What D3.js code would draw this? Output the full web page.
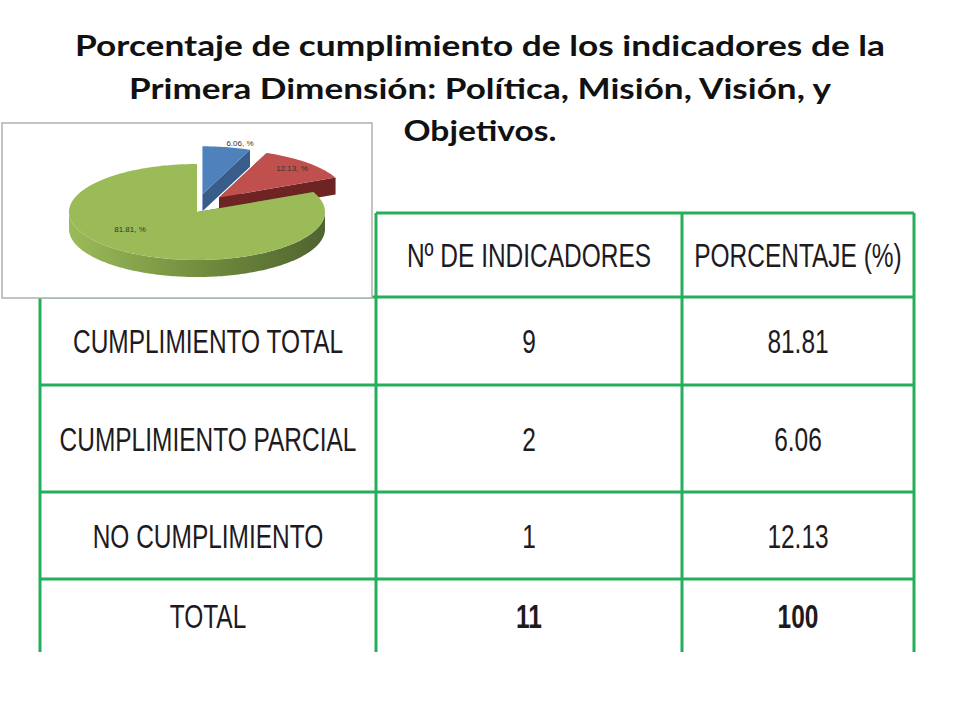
<!DOCTYPE html>
<html><head><meta charset="utf-8">
<script src="https://cdn.jsdelivr.net/npm/d3@7"></script>
<style>body{margin:0;background:#fff}</style></head>
<body><div id="c"></div>
<script>
const titleLines = ['Porcentaje de cumplimiento de los indicadores de la', 'Primera Dimensión: Política, Misión, Visión, y', 'Objetivos.'];
const titleWidths = [810, 702, 153];
const rowLabels = ['CUMPLIMIENTO TOTAL', 'CUMPLIMIENTO PARCIAL', 'NO CUMPLIMIENTO', 'TOTAL'];
const headers = ['', 'Nº DE INDICADORES', 'PORCENTAJE (%)'];
const counts = [9, 2, 1, 11];
const percents = ['81.81', '6.06', '12.13', '100'];
const pieLabels = ['6.06, %', '12.13, %', '81.81, %'];
const pieValues = [6.06, 12.13, 81.81];
const pieColors = ['#4f81bd', '#c0504d', '#9bbb59'];
const sideColors = ['#385d8a', '#6e2422', '#4f6330'];

const W = 960, H = 720;
const svg = d3.select('#c').append('svg').attr('width', W).attr('height', H);

// table grid
const colX = [40, 376, 682, 914];
const rowY = [213, 297, 385, 492, 579, 652];
const green = '#27ae5a';
const g = svg.append('g').attr('stroke', green).attr('stroke-width', 3);
colX.forEach((x, i) => g.append('line').attr('x1', x).attr('x2', x)
  .attr('y1', i === 0 ? 297 : rowY[0]).attr('y2', rowY[5]));
rowY.slice(0, 5).forEach(y => g.append('line').attr('x1', y === rowY[0] ? colX[1] : colX[0]).attr('x2', colX[3]).attr('y1', y).attr('y2', y));

const tf = '"Liberation Sans", Arial, sans-serif';
const sx = 0.72;
const cx = i => (colX[i] + colX[i + 1]) / 2;
const cy = i => (rowY[i] + rowY[i + 1]) / 2;
const t = svg.append('g').attr('font-family', tf).attr('fill', '#1e1a22')
  .attr('text-anchor', 'middle').attr('dominant-baseline', 'central').attr('font-size', 34);
function cell(i, j, txt, bold) {
  t.append('text').attr('transform', `translate(${cx(i)},${cy(j)}) scale(${sx},1)`)
    .attr('font-weight', bold ? 'bold' : null).text(txt);
}
headers.forEach((h, i) => cell(i, 0, h));
rowLabels.forEach((r, i) => {
  cell(0, i + 1, r);
  cell(1, i + 1, counts[i], i === 3);
  cell(2, i + 1, percents[i], i === 3);
});

// pie inset
svg.append('rect').attr('x', 2).attr('y', 123).attr('width', 370).attr('height', 175)
  .attr('fill', '#fff').attr('stroke', '#b0b0b0').attr('stroke-width', 1.5);

const pc = { x: 197, y: 212 }, rx = 128, ry = 48, depth = 17;
const arcs = d3.pie().sort(null)(pieValues);
const explode = [18, 20, 0];
const pt = (a, ox, oy, r = 1, dy = 0) => [ox + rx * r * Math.sin(a), oy - ry * r * Math.cos(a) + dy];
const defs = svg.append('defs');
const pie = svg.append('g');
arcs.forEach((d, i) => {
  const mid = (d.startAngle + d.endAngle) / 2;
  const ox = pc.x + explode[i] * Math.sin(mid) * 1.6, oy = pc.y - explode[i] * Math.cos(mid);
  const steps = d3.range(d.startAngle, d.endAngle, 0.02).concat([d.endAngle]);
  [d.startAngle, d.endAngle].forEach(a => {
    const p = pt(a, ox, oy);
    pie.append('path').attr('fill', sideColors[i])
      .attr('d', d3.line()([[ox, oy], p, [p[0], p[1] + depth], [ox, oy + depth]]) + 'Z');
  });
  const a0 = Math.max(d.startAngle, Math.PI / 2), a1 = Math.min(d.endAngle, 3 * Math.PI / 2);
  if (a1 > a0) {
    const s = d3.range(a0, a1, 0.02).concat([a1]);
    const top = s.map(a => pt(a, ox, oy));
    const bot = s.slice().reverse().map(a => pt(a, ox, oy, 1, depth));
    const gid = 'sg' + i;
    const lg = defs.append('linearGradient').attr('id', gid).attr('x1', '100%').attr('x2', '0%');
    lg.append('stop').attr('offset', '0%').attr('stop-color', sideColors[i]);
    lg.append('stop').attr('offset', '45%').attr('stop-color', '#6f8a3d');
    lg.append('stop').attr('offset', '100%').attr('stop-color', pieColors[i]);
    pie.append('path').attr('fill', `url(#${gid})`).attr('d', d3.line()(top.concat(bot)) + 'Z');
  }
  pie.append('path').attr('fill', pieColors[i])
    .attr('d', d3.line()([[ox, oy]].concat(steps.map(a => pt(a, ox, oy)))) + 'Z');
});
const labelPos = [[240, 146], [292, 171], [130, 232]];
svg.append('g').attr('font-family', 'Arial, "Liberation Sans", sans-serif').attr('font-size', 8).attr('fill', '#333')
  .selectAll('text').data(pieLabels).join('text')
  .attr('x', (d, i) => labelPos[i][0]).attr('y', (d, i) => labelPos[i][1]).attr('text-anchor', 'middle').text(d => d);

// title
svg.append('g').attr('font-family', 'Lato, "Open Sans", sans-serif').attr('font-weight', 'bold')
  .attr('font-size', 29).attr('fill', '#111').attr('text-anchor', 'middle')
  .selectAll('text').data(titleLines).join('text')
  .attr('x', 480).attr('y', (d, i) => 56 + i * 42.5)
  .attr('textLength', (d, i) => titleWidths[i]).attr('lengthAdjust', 'spacingAndGlyphs').text(d => d);
</script></body></html>
